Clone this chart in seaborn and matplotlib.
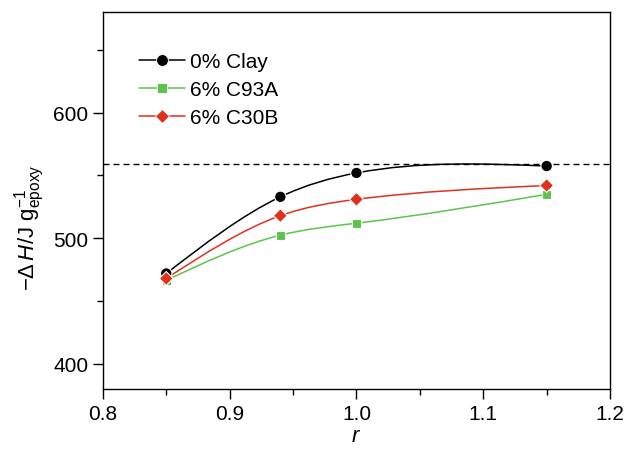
import numpy as np
import pandas as pd
import matplotlib
matplotlib.use("Agg")
import matplotlib.pyplot as plt
import seaborn as sns
from matplotlib.path import Path
from matplotlib.patches import PathPatch
from matplotlib.lines import Line2D
from matplotlib.ticker import MultipleLocator, FormatStrFormatter

sns.set_style("ticks", {"axes.edgecolor": "black", "xtick.color": "black",
                        "ytick.color": "black", "text.color": "black",
                        "axes.labelcolor": "black"})
plt.rcParams["font.family"] = ["Liberation Sans", "DejaVu Sans"]
plt.rcParams["mathtext.fontset"] = "custom"
plt.rcParams["mathtext.rm"] = "Liberation Sans"
plt.rcParams["mathtext.it"] = "Liberation Sans:italic"

# ---------- data ----------
r_values = [0.85, 0.94, 1.00, 1.15]
clay_0 = [472, 533, 552, 557.5]
c93a_6 = [466.5, 502.5, 512, 535]
c30b_6 = [468, 518, 531, 542]
reference_level = 559

series_names = ["0% Clay", "6% C93A", "6% C30B"]
series_values = [clay_0, c93a_6, c30b_6]
colors = {"0% Clay": "black", "6% C93A": "#5cc44c", "6% C30B": "#e0301e"}
markers = {"0% Clay": "o", "6% C93A": "s", "6% C30B": "D"}
sizes = {"0% Clay": 68, "6% C93A": 42, "6% C30B": 50}

df = pd.DataFrame({
    "r": r_values * len(series_names),
    "dH": [v for vals in series_values for v in vals],
    "series": [n for n in series_names for _ in r_values],
})


# ---------- natural spline through the points, drawn as bezier path ----------
def smooth_path(x, y):
    x = np.asarray(x, float)
    y = np.asarray(y, float)
    n = len(x)
    h = np.diff(x)
    A = np.zeros((n, n))
    b = np.zeros(n)
    A[0, 0] = A[-1, -1] = 1
    for i in range(1, n - 1):
        A[i, i - 1] = h[i - 1]
        A[i, i] = 2 * (h[i - 1] + h[i])
        A[i, i + 1] = h[i]
        b[i] = 6 * ((y[i + 1] - y[i]) / h[i] - (y[i] - y[i - 1]) / h[i - 1])
    M = np.linalg.solve(A, b)
    verts = [(x[0], y[0])]
    codes = [Path.MOVETO]
    for i in range(n - 1):
        s = (y[i + 1] - y[i]) / h[i]
        d0 = s - h[i] * (2 * M[i] + M[i + 1]) / 6
        d1 = s + h[i] * (M[i] + 2 * M[i + 1]) / 6
        verts += [(x[i] + h[i] / 3, y[i] + d0 * h[i] / 3),
                  (x[i + 1] - h[i] / 3, y[i + 1] - d1 * h[i] / 3),
                  (x[i + 1], y[i + 1])]
        codes += [Path.CURVE4] * 3
    return Path(verts, codes)


fig = plt.figure(figsize=(6.27, 4.52), dpi=100)
ax = fig.add_axes([0.164, 0.137, 0.809, 0.834])

for name, vals in zip(series_names, series_values):
    ax.add_patch(PathPatch(smooth_path(r_values, vals), facecolor="none",
                           edgecolor=colors[name], lw=1.1, zorder=2))

sns.scatterplot(data=df, x="r", y="dH", hue="series", style="series",
                size="series", palette=colors, markers=markers, sizes=sizes,
                edgecolor="white", linewidth=0.8, legend=False, zorder=3, ax=ax)

ax.axhline(reference_level, color="black", ls=(0, (4.3, 2.9)), lw=1.0, zorder=1)

ax.set_xlim(0.8, 1.2)
ax.set_ylim(380, 680)
ax.xaxis.set_major_locator(MultipleLocator(0.1))
ax.xaxis.set_minor_locator(MultipleLocator(0.05))
ax.set_yticks([400, 500, 600])
ax.yaxis.set_minor_locator(MultipleLocator(50))
ax.xaxis.set_major_formatter(FormatStrFormatter("%.1f"))
ax.tick_params(which="major", direction="out", length=7, width=1, labelsize=15,
               top=False, right=False, colors="black")
ax.tick_params(which="minor", direction="out", length=4, width=1,
               top=False, right=False, colors="black")
for sp in ax.spines.values():
    sp.set_linewidth(1.0)
    sp.set_visible(True)
    sp.set_color("black")

ax.set_xlabel(r"$\mathit{r}$", fontsize=16, labelpad=2)
ax.set_ylabel(r"$-\mathit{\Delta\,H}$/J g$^{-1}_{\mathrm{epoxy}}$", fontsize=16)
ax.yaxis.set_label_coords(-0.11, 0.43)

handles = [Line2D([0], [0], color=colors[n], marker=markers[n], lw=1.1,
                  markersize=8.5 if n == "0% Clay" else 7,
                  markeredgecolor="white", markeredgewidth=0.6)
           for n in series_names]
ax.legend(handles, series_names, loc="upper left", bbox_to_anchor=(0.055, 0.915),
          frameon=False, fontsize=15, handlelength=2.2, labelspacing=0.42,
          handletextpad=0.25, borderaxespad=0)

fig.savefig("out.png", dpi=100)
